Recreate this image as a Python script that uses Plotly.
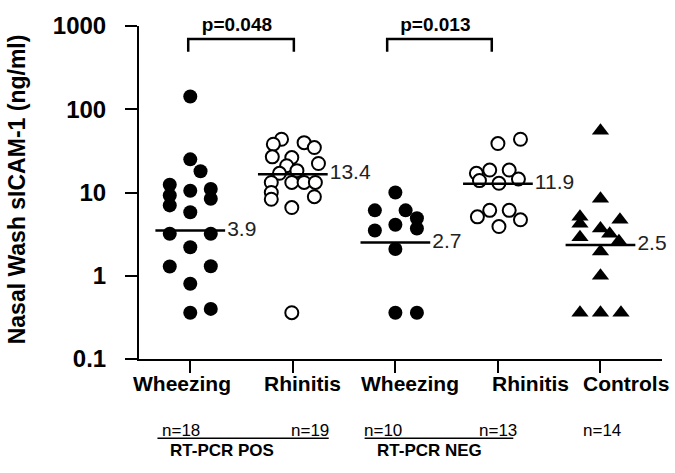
import plotly.graph_objects as go

# ---------------- data ----------------
groups = ["Wheezing", "Rhinitis", "Wheezing", "Rhinitis", "Controls"]
n_labels = ["n=18", "n=19", "n=10", "n=13", "n=14"]
median_labels = ["3.9", "13.4", "2.7", "11.9", "2.5"]
median_lines = [3.5, 16.6, 2.5, 12.7, 2.34]

wheeze_pos = [142, 25, 18, 12.4, 10.5, 11, 9.2, 8.4, 7, 5.8, 3.2, 3.2, 2.2, 1.29, 1.3, 0.8, 0.36, 0.40]
rhin_pos = [43.6, 38, 39.7, 34.7, 26.8, 26.3, 22.3, 21, 18.3, 17, 13.2, 13.2, 13.2, 13.2, 10, 8.9, 8.3, 6.6, 0.36]
wheeze_neg = [10, 6.1, 6.1, 4.9, 3.5, 4.1, 3.7, 2.1, 0.36, 0.36]
rhin_neg = [38.7, 43.6, 17, 18.6, 18.6, 14.5, 13.9, 12.9, 5.1, 6.1, 6.1, 3.9, 4.7]
controls = [55, 8.4, 5.1, 4.2, 4.7, 3.7, 3.2, 2.9, 2.6, 1.95, 1.0, 0.36, 0.36, 0.36]

p_values = ["p=0.048", "p=0.013"]

# ---------------- layout helpers (horizontal scatter offsets) ----------------
off_wp = [0, 0, 0.1, -0.2, 0, 0.2, -0.2, 0.2, -0.2, 0, -0.2, 0.2, 0, -0.2, 0.2, 0, 0, 0.2]
off_rp = [-0.11, -0.19, 0.11, 0.21, -0.2, -0.01, 0.25, -0.06, 0.04, -0.13, -0.21, -0.01, 0.11, 0.22, -0.21, 0.21, -0.21, -0.01, -0.01]
off_wn = [0, -0.2, 0.1, 0.21, -0.2, 0, 0.21, 0, 0, 0.21]
off_rn = [0, 0.22, -0.21, -0.08, 0.11, 0.2, -0.18, 0.01, -0.2, -0.08, 0.11, 0.01, 0.22]
off_c = [0, 0, -0.2, -0.2, 0.19, 0, 0.09, -0.2, 0.18, 0, 0, -0.2, 0, 0.2]

FONT = "Arial, Liberation Sans, sans-serif"
fig = go.Figure()

def add_group(idx, vals, offs, style):
    xs = [idx + o for o in offs]
    if style == "filled":
        marker = dict(symbol="circle", size=14, color="black", line=dict(color="black", width=0))
    elif style == "open":
        marker = dict(symbol="circle", size=13, color="white", line=dict(color="black", width=2))
    else:
        marker = dict(symbol="triangle-up", size=15, color="black", line=dict(color="black", width=0))
    fig.add_trace(go.Scatter(x=xs, y=vals, mode="markers", marker=marker, showlegend=False,
                             hoverinfo="y", cliponaxis=False))

add_group(0, wheeze_pos, off_wp, "filled")
add_group(1, rhin_pos, off_rp, "open")
add_group(2, wheeze_neg, off_wn, "filled")
add_group(3, rhin_neg, off_rn, "open")
add_group(4, controls, off_c, "tri")

# median lines and labels
for i, (m, lab) in enumerate(zip(median_lines, median_labels)):
    fig.add_trace(go.Scatter(x=[i - 0.34, i + 0.34], y=[m, m], mode="lines",
                             line=dict(color="black", width=2.5), showlegend=False, hoverinfo="skip"))
    fig.add_trace(go.Scatter(x=[i + 0.36], y=[m], mode="text", text=[lab], textposition="middle right",
                             textfont=dict(family=FONT, size=21, color="#222"), showlegend=False,
                             hoverinfo="skip", cliponaxis=False))

# significance brackets
brackets = [(-0.02, 1.01), (1.92, 2.94)]
for (a, b), ptxt in zip(brackets, p_values):
    fig.add_trace(go.Scatter(x=[a, a, b, b], y=[490, 700, 700, 490], mode="lines",
                             line=dict(color="black", width=2.5), showlegend=False, hoverinfo="skip",
                             cliponaxis=False))
    fig.add_trace(go.Scatter(x=[(a + b) / 2 - 0.04], y=[1000], mode="text", text=["<b>%s</b>" % ptxt],
                             textposition="middle center",
                             textfont=dict(family=FONT, size=19, color="black"),
                             showlegend=False, hoverinfo="skip", cliponaxis=False))

# bottom annotations
annotations = []
label_x = [-0.08, 0.09, 0.14, 0.32, 0.25]
for i, g in enumerate(groups):
    annotations.append(dict(x=i + label_x[i], y=-0.075, xref="x", yref="paper", text="<b>%s</b>" % g,
                            showarrow=False, font=dict(family=FONT, size=21, color="black"),
                            xanchor="center", yanchor="middle"))
n_x = [-0.09, 0.17, -0.12, 0.0, 0.01]
for i, t in enumerate(n_labels):
    annotations.append(dict(x=i + n_x[i], y=-0.216, xref="x", yref="paper", text=t, showarrow=False,
                            font=dict(family=FONT, size=17, color="black"), xanchor="center",
                            yanchor="middle"))
annotations.append(dict(x=0.31, y=-0.276, xref="x", yref="paper", text="<b>RT-PCR POS</b>",
                        showarrow=False, font=dict(family=FONT, size=17, color="black"),
                        xanchor="center", yanchor="middle"))
annotations.append(dict(x=2.33, y=-0.276, xref="x", yref="paper", text="<b>RT-PCR NEG</b>",
                        showarrow=False, font=dict(family=FONT, size=17, color="black"),
                        xanchor="center", yanchor="middle"))
annotations.append(dict(x=-0.233, y=0.51, xref="paper", yref="paper",
                        text="<b>Nasal Wash sICAM-1 (ng/ml)</b>", textangle=-90, showarrow=False,
                        font=dict(family=FONT, size=23, color="black"), xanchor="center",
                        yanchor="middle"))

shapes = [
    dict(type="line", xref="x", yref="paper", x0=-0.32, x1=1.35, y0=-0.238, y1=-0.238,
         line=dict(color="black", width=1.5)),
    dict(type="line", xref="x", yref="paper", x0=1.7, x1=3.15, y0=-0.238, y1=-0.238,
         line=dict(color="black", width=1.5)),
]

fig.update_layout(
    width=675, height=473,
    margin=dict(l=139, r=13, t=23, b=114),
    paper_bgcolor="white", plot_bgcolor="white",
    annotations=annotations, shapes=shapes,
    font=dict(family=FONT, color="black"),
    xaxis=dict(range=[-0.5, 4.6], tickvals=[0, 1, 2, 3, 4], ticktext=[""] * 5, showgrid=False,
               zeroline=False, showline=True, linecolor="black", linewidth=2, ticks="outside",
               ticklen=12, tickwidth=2, tickcolor="black"),
    yaxis=dict(type="log", range=[-1, 3], tickvals=[0.1, 1, 10, 100, 1000],
               ticktext=["<b>0.1</b>", "<b>1</b>", "<b>10</b>", "<b>100</b>", "<b>1000</b>"],
               tickfont=dict(family=FONT, size=24, color="black"), showgrid=False, zeroline=False,
               showline=True, linecolor="black", linewidth=2, ticks="outside", ticklen=12,
               tickwidth=2, tickcolor="black", ticklabelstandoff=14),
)

fig.write_html("out.html", config={"displayModeBar": False},
               post_script="document.body.style.margin='0';document.body.style.padding='0';")
